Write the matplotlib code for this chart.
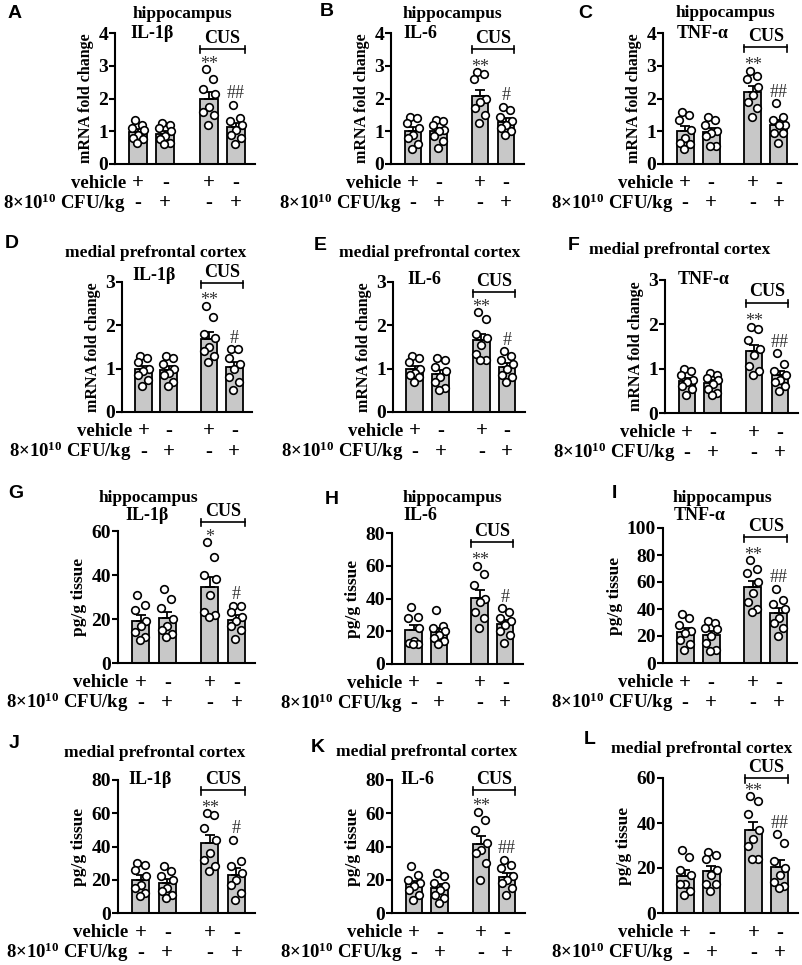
import numpy as np
import matplotlib
matplotlib.use("Agg")
import matplotlib.pyplot as plt
import matplotlib.transforms as mtransforms

plt.rcParams['font.family'] = ['Liberation Serif', 'DejaVu Serif']
plt.rcParams['font.weight'] = 'bold'
plt.rcParams['axes.labelweight'] = 'bold'
plt.rcParams['mathtext.fontset'] = 'custom'
plt.rcParams['mathtext.bf'] = 'Liberation Serif:bold'
plt.rcParams['mathtext.rm'] = 'Liberation Serif:bold'
plt.rcParams['mathtext.default'] = 'bf'

W, H = 803, 965

# groups: vehicle, CFU, CUS+vehicle, CUS+CFU (8 animals each)
vehicle_signs = ['+', '-', '+', '-']
cfu_signs = ['-', '+', '-', '+']

# mRNA fold change
hip_il1b_mrna = [[1.35, 1.2, 1.1, 1.05, 0.9, 0.8, 0.75, 0.65],
                 [1.25, 1.2, 1.1, 1.0, 0.85, 0.75, 0.65, 0.6],
                 [2.9, 2.6, 2.3, 2.15, 1.75, 1.6, 1.5, 1.2],
                 [1.8, 1.4, 1.3, 1.2, 1.05, 0.9, 0.8, 0.6]]
hip_il6_mrna = [[1.45, 1.4, 1.25, 1.1, 0.9, 0.8, 0.6, 0.45],
                [1.35, 1.3, 1.2, 1.05, 1.0, 0.85, 0.7, 0.5],
                [2.8, 2.75, 2.6, 2.0, 1.9, 1.7, 1.5, 1.25],
                [1.75, 1.65, 1.45, 1.3, 1.2, 1.1, 1.0, 0.9]]
hip_tnf_mrna = [[1.6, 1.5, 1.35, 1.05, 0.8, 0.65, 0.6, 0.45],
                [1.45, 1.35, 1.2, 1.0, 0.95, 0.85, 0.55, 0.55],
                [2.85, 2.7, 2.6, 2.35, 2.1, 1.9, 1.7, 1.45],
                [1.85, 1.45, 1.35, 1.2, 1.2, 0.95, 0.95, 0.65]]
pfc_il1b_mrna = [[1.3, 1.25, 1.15, 1.0, 0.95, 0.85, 0.75, 0.6],
                 [1.3, 1.25, 1.1, 1.0, 0.9, 0.85, 0.7, 0.6],
                 [2.45, 2.2, 1.8, 1.7, 1.5, 1.4, 1.3, 1.15],
                 [1.45, 1.45, 1.25, 1.1, 1.0, 0.8, 0.7, 0.5]]
pfc_il6_mrna = [[1.3, 1.25, 1.15, 1.0, 0.9, 0.85, 0.8, 0.7],
                [1.25, 1.2, 1.05, 0.95, 0.8, 0.7, 0.55, 0.5],
                [2.3, 2.15, 1.8, 1.7, 1.55, 1.35, 1.2, 1.2],
                [1.4, 1.3, 1.2, 1.1, 1.0, 0.85, 0.8, 0.7]]
pfc_tnf_mrna = [[1.0, 0.95, 0.85, 0.75, 0.7, 0.6, 0.55, 0.4],
                [0.9, 0.85, 0.8, 0.75, 0.65, 0.55, 0.45, 0.4],
                [1.95, 1.9, 1.65, 1.45, 1.3, 1.05, 0.95, 0.85],
                [1.35, 1.1, 0.95, 0.85, 0.75, 0.7, 0.6, 0.5]]

# protein, pg/g tissue
hip_il1b_prot = [[31, 26.5, 24, 19, 17, 14, 12, 10.5],
                 [33.5, 29, 25, 20, 17, 15, 13, 12],
                 [55, 48, 40, 38, 31, 23, 22, 21],
                 [26, 26, 23, 21, 19, 17, 15, 11]]
hip_il6_prot = [[35, 29, 28, 22, 14, 13, 12, 12],
                [33, 23, 22, 20, 18, 16, 14, 12],
                [60, 55, 48, 40, 38, 32, 28, 22],
                [34, 32, 28, 26, 24, 20, 18, 13]]
hip_tnf_prot = [[36, 33, 28, 24, 22, 17, 14, 10],
                [31, 30, 26, 25, 20, 15, 10, 9],
                [76, 70, 67, 60, 52, 45, 40, 38],
                [55, 47, 44, 40, 33, 30, 26, 20]]
pfc_il1b_prot = [[30, 29, 26, 22, 17, 15, 12, 10],
                 [28, 25, 22, 20, 15, 13, 11, 9],
                 [60, 59, 51, 44, 36, 32, 28, 25],
                 [44, 31, 28, 24, 20, 17, 12, 8]]
pfc_il6_prot = [[28, 23, 20, 18, 16, 14, 11, 8],
                [24, 22, 18, 16, 14, 11, 9, 6],
                [61, 56, 50, 42, 38, 36, 30, 20],
                [32, 29, 27, 22, 20, 18, 15, 11]]
pfc_tnf_prot = [[28, 25, 19, 17, 13, 13, 10, 8],
                [27, 26, 24, 19, 17, 13, 13, 10],
                [52, 50, 44, 37, 33, 30, 24, 24],
                [35, 31, 23, 20, 17, 14, 12, 11]]

panels = [hip_il1b_mrna, hip_il6_mrna, hip_tnf_mrna,
          pfc_il1b_mrna, pfc_il6_mrna, pfc_tnf_mrna,
          hip_il1b_prot, hip_il6_prot, hip_tnf_prot,
          pfc_il1b_prot, pfc_il6_prot, pfc_tnf_prot]
letters = list('ABCDEFGHIJKL')
regions = ['hippocampus'] * 3 + ['medial prefrontal cortex'] * 3 + \
          ['hippocampus'] * 3 + ['medial prefrontal cortex'] * 3
cytokines = ['IL-1β', 'IL-6', 'TNF-α'] * 3 + ['IL-1β', 'IL-6', '']
ylabels = ['mRNA fold change'] * 6 + ['pg/g tissue'] * 6
ymax = [4, 4, 4, 3, 3, 3, 60, 80, 100, 80, 80, 60]
ystep = [1, 1, 1, 1, 1, 1, 20, 20, 20, 20, 20, 20]
cus_marks = ['**', '**', '**', '**', '**', '**', '*', '**', '**', '**', '**', '**']
cfu_marks = ['##', '#', '##', '#', '#', '##', '#', '#', '##', '#', '##', '##']

# layout in pixels: axes box (left, top, right, bottom)
rects = [(115, 33, 255, 164), (391, 33, 524, 164), (663, 33, 797, 164),
         (122, 282, 252, 412), (393, 282, 525, 412), (665, 280, 798, 413),
         (118, 531, 255, 663), (392, 533, 523, 664), (663, 528, 797, 663),
         (118, 780, 255, 913), (392, 780, 525, 913), (663, 778, 798, 913)]
letter_xy = [(15, 13), (327, 12), (585, 13), (12, 244), (320, 245), (574, 245),
             (16, 494), (332, 499), (614, 494), (14, 744), (318, 747), (590, 740)]
region_xy = [(182, 14), (452, 14), (725, 13), (156, 253), (430, 253), (680, 250),
             (148, 498), (452, 498), (722, 498), (155, 753), (427, 752), (702, 749)]
cyto_xy = [(130, 33), (403, 33), (677, 33), (132, 275), (407, 279), (678, 279),
           (125, 515), (403, 515), (674, 515), (128, 780), (400, 780), (0, 0)]
bracket_y = [0.88, 0.88, 0.89, 0.99, 0.92, 0.83, 1.07, 0.93, 0.93, 0.925, 0.925, 1.0]

xpos = np.array([0, 1, 2.6, 3.6])
offsets = np.array([-0.12, 0.16, -0.22, 0.22, 0.0, -0.2, 0.18, -0.04])
bar_w = 0.65


def fx(x):
    return x / W


def fy(y):
    return 1 - y / H


fig = plt.figure(figsize=(W / 100, H / 100), dpi=100)

for i, data in enumerate(panels):
    l, t, r, b = rects[i]
    ax = fig.add_axes([fx(l), fy(b), (r - l) / W, (b - t) / H])
    means = np.array([np.mean(g) for g in data])
    sems = np.array([np.std(g, ddof=1) / np.sqrt(len(g)) for g in data])

    ax.bar(xpos, means, width=bar_w, color='#c8c8c8', edgecolor='black',
           linewidth=1.3, zorder=2)
    ax.errorbar(xpos, means, yerr=[np.zeros(4), sems], fmt='none', ecolor='black',
                elinewidth=1.3, capsize=3.5, capthick=1.3, zorder=3)
    for x, g in zip(xpos, data):
        vals = np.sort(g)[::-1]
        ax.scatter(x + offsets[:len(vals)], vals, s=30, facecolor='white',
                   edgecolor='black', linewidth=1.2, zorder=4, clip_on=False)

    ax.set_xlim(-0.85, 4.3)
    ax.set_ylim(0, ymax[i])
    ax.set_yticks(np.arange(0, ymax[i] + ystep[i] / 2, ystep[i]))
    ax.set_xticks([])
    for s in ['top', 'right']:
        ax.spines[s].set_visible(False)
    for s in ['left', 'bottom']:
        ax.spines[s].set_linewidth(1.5)
    ax.tick_params(axis='y', direction='out', length=4, width=1.5, labelsize=14, pad=1)
    for lab in ax.get_yticklabels():
        lab.set_fontweight('bold')
    ax.set_ylabel(ylabels[i], fontsize=11.5 if i < 6 else 12.5, labelpad=3)

    # significance marks, just above the highest point of the group
    ax.annotate(cus_marks[i], (xpos[2], max(data[2])), xytext=(0, 3.5),
                textcoords='offset points', ha='center', va='center',
                fontsize=13, fontweight='normal', color='#333333')
    ax.annotate(cfu_marks[i], (xpos[3], max(data[3])), xytext=(0, 8),
                textcoords='offset points', ha='center', va='center',
                fontsize=13, fontweight='normal', color='#333333')

    # CUS bracket
    tr = mtransforms.blended_transform_factory(ax.transData, ax.transAxes)
    yb = bracket_y[i]
    x0, x1 = xpos[2] - bar_w / 2, xpos[3] + bar_w / 2
    ax.plot([x0, x1], [yb, yb], color='black', lw=1.2, transform=tr, clip_on=False)
    for xe in (x0, x1):
        ax.plot([xe, xe], [yb - 0.035, yb + 0.02], color='black', lw=1.2,
                transform=tr, clip_on=False)
    ax.text((x0 + x1) / 2, yb + 0.08, 'CUS', ha='center', va='center',
            fontsize=13, transform=tr)

    # treatment table under the axis
    trf = mtransforms.blended_transform_factory(ax.transData, fig.transFigure)
    y_veh = fy(b + 19.5)
    y_cfu = fy(b + 39.5)
    ax.text(-0.45, y_veh, 'vehicle', ha='right', va='center', fontsize=13.5, transform=trf)
    ax.text(-0.45, y_cfu, '8×10$^{10}$ CFU/kg', ha='right', va='center', fontsize=13.5,
            transform=trf)
    for x, sv, sc in zip(xpos, vehicle_signs, cfu_signs):
        ax.text(x, y_veh, sv, ha='center', va='center', fontsize=15, transform=trf)
        ax.text(x, y_cfu, sc, ha='center', va='center', fontsize=15, transform=trf)

    # titles and panel letter
    fig.text(fx(region_xy[i][0]), fy(region_xy[i][1]), regions[i], ha='center',
             va='center', fontsize=12.5)
    if cytokines[i]:
        fig.text(fx(cyto_xy[i][0]), fy(cyto_xy[i][1]), cytokines[i], ha='left',
                 va='center', fontsize=13)
    fig.text(fx(letter_xy[i][0]), fy(letter_xy[i][1]), letters[i], ha='center',
             va='center', fontsize=14, family='Liberation Sans', fontweight='bold')

fig.savefig('out.png', dpi=100)
